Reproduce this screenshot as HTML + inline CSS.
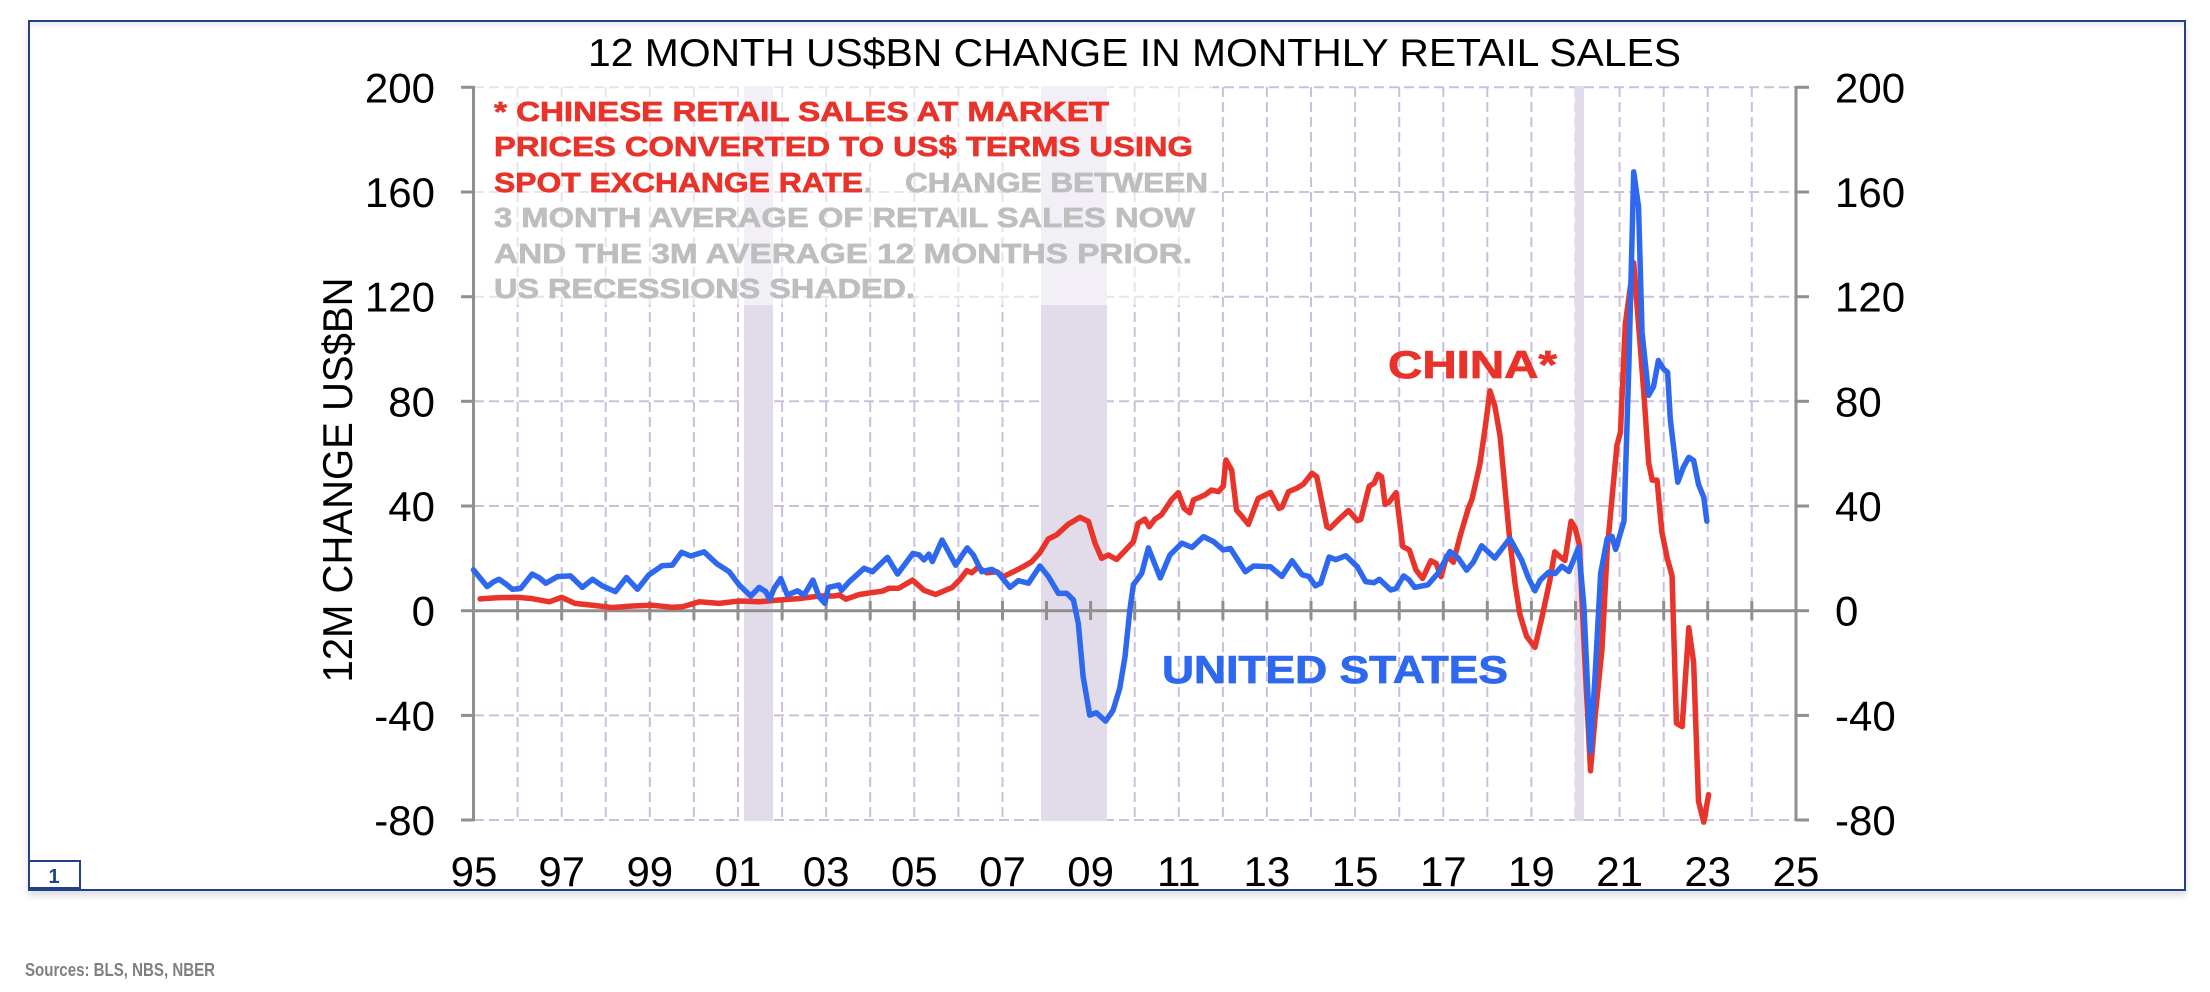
<!DOCTYPE html>
<html>
<head>
<meta charset="utf-8">
<style>
  html,body{margin:0;padding:0;background:#fff;}
  body{width:2210px;height:992px;position:relative;overflow:hidden;}
  .frame{position:absolute;left:28px;top:20px;width:2154px;height:867px;border:2px solid #23418a;
    box-shadow:0 5px 7px rgba(0,0,0,0.13), inset 0 7px 7px -5px rgba(0,0,0,0.10);}
  svg{position:absolute;left:0;top:0;}
</style>
</head>
<body>
<div class="frame"></div>
<svg width="2210" height="992" viewBox="0 0 2210 992" xmlns="http://www.w3.org/2000/svg" font-family="'Liberation Sans', 'DejaVu Sans', sans-serif">
  <!-- gridlines -->
  <g stroke="#c9c0dc" stroke-width="2" stroke-dasharray="10,5" fill="none">
    <line x1="474" y1="87.3" x2="1796" y2="87.3"/>
    <line x1="474" y1="192" x2="1796" y2="192"/>
    <line x1="474" y1="296.7" x2="1796" y2="296.7"/>
    <line x1="474" y1="401.3" x2="1796" y2="401.3"/>
    <line x1="474" y1="506" x2="1796" y2="506"/>
    <line x1="474" y1="715.4" x2="1796" y2="715.4"/>
    <line x1="474" y1="820" x2="1796" y2="820"/>
    <line x1="517.6" y1="87" x2="517.6" y2="820"/>
    <line x1="561.7" y1="87" x2="561.7" y2="820"/>
    <line x1="605.7" y1="87" x2="605.7" y2="820"/>
    <line x1="649.8" y1="87" x2="649.8" y2="820"/>
    <line x1="693.9" y1="87" x2="693.9" y2="820"/>
    <line x1="738" y1="87" x2="738" y2="820"/>
    <line x1="782.1" y1="87" x2="782.1" y2="820"/>
    <line x1="826.1" y1="87" x2="826.1" y2="820"/>
    <line x1="870.2" y1="87" x2="870.2" y2="820"/>
    <line x1="914.3" y1="87" x2="914.3" y2="820"/>
    <line x1="958.4" y1="87" x2="958.4" y2="820"/>
    <line x1="1002.5" y1="87" x2="1002.5" y2="820"/>
    <line x1="1046.5" y1="87" x2="1046.5" y2="820"/>
    <line x1="1090.6" y1="87" x2="1090.6" y2="820"/>
    <line x1="1134.7" y1="87" x2="1134.7" y2="820"/>
    <line x1="1178.8" y1="87" x2="1178.8" y2="820"/>
    <line x1="1222.9" y1="87" x2="1222.9" y2="820"/>
    <line x1="1266.9" y1="87" x2="1266.9" y2="820"/>
    <line x1="1311" y1="87" x2="1311" y2="820"/>
    <line x1="1355.1" y1="87" x2="1355.1" y2="820"/>
    <line x1="1399.2" y1="87" x2="1399.2" y2="820"/>
    <line x1="1443.3" y1="87" x2="1443.3" y2="820"/>
    <line x1="1487.3" y1="87" x2="1487.3" y2="820"/>
    <line x1="1531.4" y1="87" x2="1531.4" y2="820"/>
    <line x1="1575.5" y1="87" x2="1575.5" y2="820"/>
    <line x1="1619.6" y1="87" x2="1619.6" y2="820"/>
    <line x1="1663.7" y1="87" x2="1663.7" y2="820"/>
    <line x1="1707.7" y1="87" x2="1707.7" y2="820"/>
    <line x1="1751.8" y1="87" x2="1751.8" y2="820"/>
  </g>
  <!-- recession bands -->
  <g fill="#e2dcea">
    <rect x="744" y="86" width="29" height="735"/>
    <rect x="1041" y="86" width="66" height="735"/>
    <rect x="1575" y="86" width="9" height="735"/>
  </g>
  <!-- annotation box overlay -->
  <rect x="475" y="85" width="738" height="220" fill="#ffffff" fill-opacity="0.55"/>

  <!-- axes -->
  <g stroke="#8f8f8f" stroke-width="3" fill="none">
    <line x1="473.5" y1="86" x2="473.5" y2="821"/>
    <line x1="1796" y1="86" x2="1796" y2="821"/>
    <line x1="473.5" y1="610.7" x2="1796" y2="610.7"/>
    <line x1="461" y1="87.3" x2="474" y2="87.3"/>
    <line x1="461" y1="192" x2="474" y2="192"/>
    <line x1="461" y1="296.7" x2="474" y2="296.7"/>
    <line x1="461" y1="401.3" x2="474" y2="401.3"/>
    <line x1="461" y1="506" x2="474" y2="506"/>
    <line x1="461" y1="610.7" x2="474" y2="610.7"/>
    <line x1="461" y1="715.4" x2="474" y2="715.4"/>
    <line x1="461" y1="820" x2="474" y2="820"/>
    <line x1="1796" y1="87.3" x2="1809" y2="87.3"/>
    <line x1="1796" y1="192" x2="1809" y2="192"/>
    <line x1="1796" y1="296.7" x2="1809" y2="296.7"/>
    <line x1="1796" y1="401.3" x2="1809" y2="401.3"/>
    <line x1="1796" y1="506" x2="1809" y2="506"/>
    <line x1="1796" y1="610.7" x2="1809" y2="610.7"/>
    <line x1="1796" y1="715.4" x2="1809" y2="715.4"/>
    <line x1="1796" y1="820" x2="1809" y2="820"/>
  </g>
  <g stroke="#8f8f8f" stroke-width="3">
    <line x1="517.6" y1="601" x2="517.6" y2="620"/>
    <line x1="561.7" y1="601" x2="561.7" y2="620"/>
    <line x1="605.7" y1="601" x2="605.7" y2="620"/>
    <line x1="649.8" y1="601" x2="649.8" y2="620"/>
    <line x1="693.9" y1="601" x2="693.9" y2="620"/>
    <line x1="738" y1="601" x2="738" y2="620"/>
    <line x1="782.1" y1="601" x2="782.1" y2="620"/>
    <line x1="826.1" y1="601" x2="826.1" y2="620"/>
    <line x1="870.2" y1="601" x2="870.2" y2="620"/>
    <line x1="914.3" y1="601" x2="914.3" y2="620"/>
    <line x1="958.4" y1="601" x2="958.4" y2="620"/>
    <line x1="1002.5" y1="601" x2="1002.5" y2="620"/>
    <line x1="1046.5" y1="601" x2="1046.5" y2="620"/>
    <line x1="1090.6" y1="601" x2="1090.6" y2="620"/>
    <line x1="1134.7" y1="601" x2="1134.7" y2="620"/>
    <line x1="1178.8" y1="601" x2="1178.8" y2="620"/>
    <line x1="1222.9" y1="601" x2="1222.9" y2="620"/>
    <line x1="1266.9" y1="601" x2="1266.9" y2="620"/>
    <line x1="1311" y1="601" x2="1311" y2="620"/>
    <line x1="1355.1" y1="601" x2="1355.1" y2="620"/>
    <line x1="1399.2" y1="601" x2="1399.2" y2="620"/>
    <line x1="1443.3" y1="601" x2="1443.3" y2="620"/>
    <line x1="1487.3" y1="601" x2="1487.3" y2="620"/>
    <line x1="1531.4" y1="601" x2="1531.4" y2="620"/>
    <line x1="1575.5" y1="601" x2="1575.5" y2="620"/>
    <line x1="1619.6" y1="601" x2="1619.6" y2="620"/>
    <line x1="1663.7" y1="601" x2="1663.7" y2="620"/>
    <line x1="1707.7" y1="601" x2="1707.7" y2="620"/>
    <line x1="1751.8" y1="601" x2="1751.8" y2="620"/>
  </g>

  <!-- series: data coords (t-1995, value) -->
  <g transform="matrix(44.08 0 0 -2.617 473.5 610.7)" fill="none" stroke-linejoin="round" stroke-linecap="round">
    <polyline vector-effect="non-scaling-stroke" stroke="#e8342a" stroke-width="5.5" points="0.15,4.5 0.58,5.0 1.03,5.1 1.33,4.6 1.72,3.4 2.00,5.1 2.30,2.8 2.70,2.1 3.15,1.2 3.60,1.8 4.06,2.1 4.51,1.3 4.74,1.5 5.12,3.4 5.57,2.8 6.03,3.7 6.48,3.4 6.93,4.1 7.38,4.6 7.84,5.6 8.18,5.6 8.30,6.0 8.45,4.4 8.75,6.2 9.28,7.5 9.43,8.6 9.65,8.6 9.96,11.7 10.22,7.8 10.48,6.2 10.86,8.9 11.04,12.0 11.19,15.3 11.30,14.5 11.45,16.6 11.64,14.5 11.87,14.9 12.02,13.0 12.25,14.9 12.47,16.8 12.66,18.7 12.85,22.2 13.04,27.4 13.23,29.0 13.49,33.0 13.76,35.7 13.95,34.1 14.10,25.8 14.25,20.0 14.40,21.3 14.59,19.6 14.74,22.2 14.97,26.4 15.08,33.4 15.23,35.0 15.33,32.1 15.46,35.0 15.61,36.7 15.83,42.3 15.99,45.1 16.12,39.1 16.25,37.4 16.33,42.3 16.59,44.2 16.74,46.1 16.90,45.5 17.01,47.6 17.07,57.6 17.20,53.7 17.31,38.4 17.43,36.1 17.58,33.0 17.80,42.9 18.08,45.2 18.27,39.1 18.34,39.5 18.49,45.5 18.68,46.8 18.83,48.4 19.02,52.5 19.13,51.2 19.36,32.1 19.43,31.5 19.62,34.7 19.85,38.3 20.05,34.4 20.13,34.9 20.32,47.6 20.43,48.7 20.52,52.1 20.60,51.2 20.68,40.6 20.77,41.5 20.93,45.1 21.08,24.5 21.23,23.2 21.38,15.6 21.53,12.3 21.72,19.1 21.84,18.0 21.95,13.0 22.08,21.0 22.23,18.5 22.38,28.4 22.57,39.2 22.65,42.5 22.83,55.8 22.95,69.9 23.06,84.0 23.17,78.2 23.29,66.6 23.40,46.7 23.51,26.8 23.63,10.2 23.74,-1.5 23.89,-9.8 24.08,-14.0 24.23,-3.2 24.42,11.7 24.53,22.5 24.63,20.9 24.76,19.2 24.90,34.2 24.99,31.7 25.09,25.0 25.20,-14.8 25.34,-61.2 25.45,-39.6 25.60,-14.8 25.72,23.4 25.83,43.3 25.94,63.2 26.02,68.2 26.13,109.6 26.32,132.9 26.46,103.0 26.55,83.1 26.66,56.5 26.74,49.9 26.85,49.9 26.96,30.0 27.08,20.1 27.19,13.4 27.29,-43.0 27.42,-44.3 27.57,-6.5 27.68,-19.8 27.79,-72.8 27.91,-80.8 28.02,-70.3"/>
    <polyline vector-effect="non-scaling-stroke" stroke="#2e68ef" stroke-width="5.5" points="0.00,15.6 0.15,12.5 0.31,9.2 0.45,11.0 0.58,12.0 0.75,10.0 0.88,8.2 1.07,8.5 1.33,14.0 1.50,12.5 1.64,10.5 1.90,13.0 2.20,13.3 2.47,8.9 2.70,12.0 2.92,9.5 3.22,7.3 3.47,12.7 3.72,8.2 3.98,13.7 4.28,17.2 4.51,17.4 4.72,22.3 4.93,20.9 5.23,22.5 5.53,17.8 5.80,14.9 6.03,9.8 6.29,5.6 6.48,8.9 6.63,7.3 6.72,4.4 6.82,8.5 6.97,12.3 7.12,6.0 7.35,7.6 7.50,6.0 7.70,11.7 7.84,5.3 7.97,2.8 8.05,8.9 8.29,9.8 8.35,7.8 8.52,11.0 8.86,16.2 9.05,14.9 9.39,20.4 9.62,14.0 9.97,21.9 10.11,21.3 10.22,19.4 10.33,21.6 10.41,18.8 10.63,27.0 10.94,17.4 11.09,21.3 11.20,24.0 11.34,21.3 11.53,14.9 11.76,15.8 11.91,14.3 12.17,8.9 12.36,11.5 12.59,10.5 12.85,17.1 13.04,13.1 13.27,6.6 13.46,6.6 13.61,4.1 13.72,-4.8 13.83,-25.2 13.98,-39.9 14.13,-39.0 14.34,-42.2 14.51,-38.0 14.66,-29.7 14.78,-17.6 14.89,0.3 14.97,9.9 15.16,14.3 15.31,24.0 15.58,12.5 15.80,21.3 16.07,25.8 16.30,24.2 16.56,28.3 16.79,26.4 17.01,23.2 17.17,23.8 17.51,14.9 17.70,17.1 18.08,16.8 18.34,13.1 18.57,19.1 18.80,13.7 18.95,13.1 19.10,9.5 19.22,10.5 19.41,20.5 19.56,19.5 19.79,21.0 20.05,16.8 20.24,11.1 20.43,10.7 20.55,12.0 20.81,7.9 20.93,8.5 21.10,13.3 21.23,11.7 21.35,8.9 21.65,9.9 21.88,14.3 22.15,22.6 22.34,20.1 22.53,15.5 22.68,18.5 22.87,24.8 23.17,20.1 23.51,27.6 23.78,19.3 23.93,12.6 24.08,7.6 24.20,11.7 24.39,14.7 24.54,14.2 24.69,17.0 24.85,15.0 25.07,24.2 25.19,1.9 25.34,-53.8 25.45,-23.0 25.57,14.2 25.72,27.6 25.83,28.4 25.91,23.4 26.10,34.2 26.21,93.1 26.32,167.7 26.43,154.4 26.51,106.3 26.66,82.3 26.77,85.6 26.88,95.6 27.00,92.3 27.09,91.1 27.15,73.2 27.32,49.1 27.45,54.9 27.57,58.6 27.68,57.4 27.79,48.3 27.91,43.3 27.98,34.2"/>
  </g>

  <!-- title -->
  <text x="588" y="66" font-size="39" fill="#000" textLength="1093" lengthAdjust="spacingAndGlyphs">12 MONTH US$BN CHANGE IN MONTHLY RETAIL SALES</text>

  <!-- y axis title -->
  <text x="352" y="480" font-size="42" fill="#000" text-anchor="middle" transform="rotate(-90 352 480)" textLength="405" lengthAdjust="spacingAndGlyphs">12M CHANGE US$BN</text>

  <!-- left tick labels -->
  <g font-size="42" fill="#000" text-anchor="end">
    <text x="435" y="102.3">200</text>
    <text x="435" y="207">160</text>
    <text x="435" y="311.7">120</text>
    <text x="435" y="416.3">80</text>
    <text x="435" y="521">40</text>
    <text x="435" y="625.7">0</text>
    <text x="435" y="730.4">-40</text>
    <text x="435" y="835">-80</text>
  </g>
  <!-- right tick labels -->
  <g font-size="42" fill="#000" text-anchor="start">
    <text x="1835" y="102.3">200</text>
    <text x="1835" y="207">160</text>
    <text x="1835" y="311.7">120</text>
    <text x="1835" y="416.3">80</text>
    <text x="1835" y="521">40</text>
    <text x="1835" y="625.7">0</text>
    <text x="1835" y="730.4">-40</text>
    <text x="1835" y="835">-80</text>
  </g>
  <!-- x labels -->
  <g font-size="42" fill="#000" text-anchor="middle">
    <text x="474" y="886">95</text>
    <text x="561.7" y="886">97</text>
    <text x="649.8" y="886">99</text>
    <text x="738" y="886">01</text>
    <text x="826.1" y="886">03</text>
    <text x="914.3" y="886">05</text>
    <text x="1002.5" y="886">07</text>
    <text x="1090.6" y="886">09</text>
    <text x="1178.8" y="886">11</text>
    <text x="1266.9" y="886">13</text>
    <text x="1355.1" y="886">15</text>
    <text x="1443.3" y="886">17</text>
    <text x="1531.4" y="886">19</text>
    <text x="1619.6" y="886">21</text>
    <text x="1707.7" y="886">23</text>
    <text x="1796" y="886">25</text>
  </g>

  <!-- annotation -->
  <g font-size="28" font-weight="bold" stroke-width="0.7">
    <text x="494" y="121" fill="#e9332a" stroke="#e9332a" textLength="615" lengthAdjust="spacingAndGlyphs">* CHINESE RETAIL SALES AT MARKET</text>
    <text x="494" y="156" fill="#e9332a" stroke="#e9332a" textLength="699" lengthAdjust="spacingAndGlyphs">PRICES CONVERTED TO US$ TERMS USING</text>
    <text x="494" y="192" fill="#e9332a" stroke="#e9332a" textLength="369" lengthAdjust="spacingAndGlyphs">SPOT EXCHANGE RATE</text>
    <text x="864" y="192" fill="#bebebe" stroke="#bebebe">.</text>
    <text x="905" y="192" fill="#bebebe" stroke="#bebebe" textLength="303" lengthAdjust="spacingAndGlyphs">CHANGE BETWEEN</text>
    <text x="494" y="227" fill="#bebebe" stroke="#bebebe" textLength="701" lengthAdjust="spacingAndGlyphs">3 MONTH AVERAGE OF RETAIL SALES NOW</text>
    <text x="494" y="263" fill="#bebebe" stroke="#bebebe" textLength="698" lengthAdjust="spacingAndGlyphs">AND THE 3M AVERAGE 12 MONTHS PRIOR.</text>
    <text x="494" y="298" fill="#bebebe" stroke="#bebebe" textLength="421" lengthAdjust="spacingAndGlyphs">US RECESSIONS SHADED.</text>
  </g>

  <!-- series labels -->
  <text x="1388" y="378" font-size="39" font-weight="bold" fill="#e9332a" stroke="#e9332a" stroke-width="0.8" textLength="169" lengthAdjust="spacingAndGlyphs">CHINA*</text>
  <text x="1162" y="683" font-size="39" font-weight="bold" fill="#2e68ef" stroke="#2e68ef" stroke-width="0.8" textLength="346" lengthAdjust="spacingAndGlyphs">UNITED STATES</text>

  <!-- page number box -->
  <rect x="29" y="861" width="51" height="27" fill="#fff" stroke="#23418a" stroke-width="2"/>
  <text x="54" y="883" font-size="20" font-weight="bold" fill="#23418a" text-anchor="middle">1</text>

  <!-- sources -->
  <text x="25" y="976" font-size="18" font-weight="bold" fill="#7f7f7f" textLength="190" lengthAdjust="spacingAndGlyphs">Sources: BLS, NBS, NBER</text>
</svg>
</body>
</html>
